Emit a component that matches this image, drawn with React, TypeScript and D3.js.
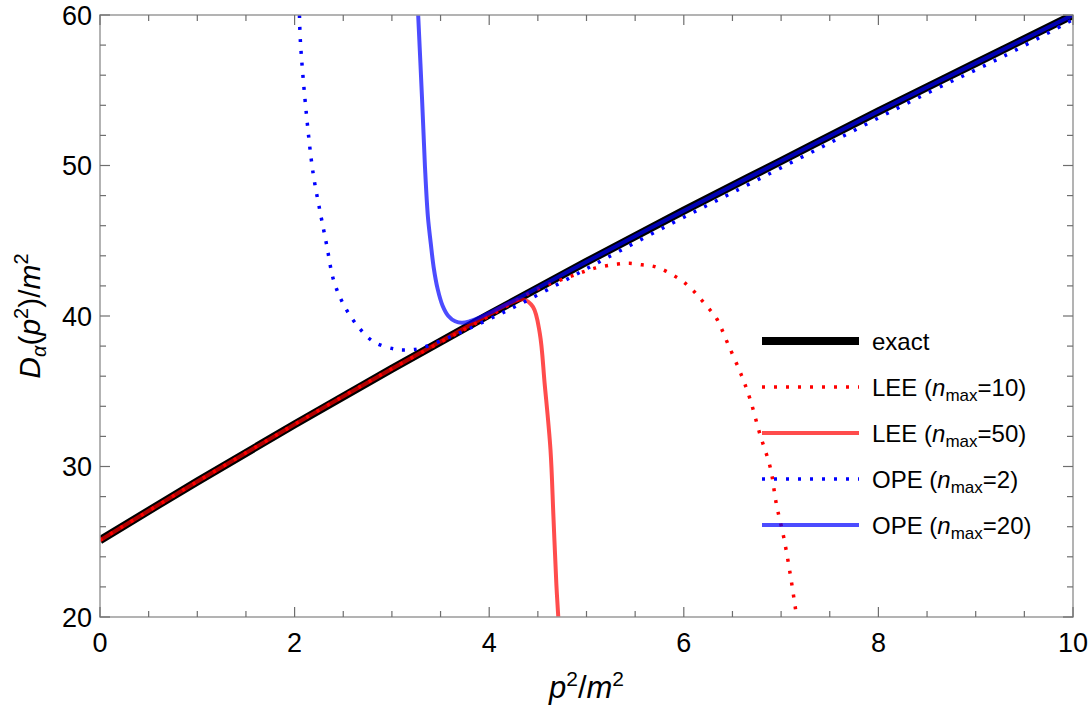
import { useEffect, useRef } from "react";
import * as d3 from "d3";

// exact propagator
const exactX = [0, 1, 2, 3, 4, 5, 6, 7, 8, 9, 10];
const exactY = [25.1, 29.0, 32.8, 36.5, 40.1, 43.6, 47.0, 50.3, 53.6, 56.8, 60.0];

// LEE, n_max = 10
const lee10X = [0, 1, 2, 3, 4, 4.5, 4.85, 5.07, 5.32, 5.44, 5.57, 5.69, 5.81, 5.92, 6.01, 6.11, 6.19, 6.27, 6.34, 6.45, 6.59, 6.68, 6.78, 6.89, 6.95, 7.03, 7.1, 7.16];
const lee10Y = [25.1, 29.0, 32.8, 36.5, 40.0, 41.8, 42.66, 43.15, 43.45, 43.5, 43.4, 43.3, 43.0, 42.6, 42.2, 41.6, 41.0, 40.4, 39.8, 38.2, 36.1, 34.5, 32.2, 29.9, 27.55, 25.2, 22.6, 20.0];

// LEE, n_max = 50
const lee50X = [0, 1, 2, 3, 3.5, 4.0, 4.2, 4.35, 4.45, 4.52, 4.57, 4.63, 4.66, 4.69, 4.71];
const lee50Y = [25.1, 29.0, 32.8, 36.5, 38.3, 40.1, 40.8, 41.1, 40.6, 38.85, 35.5, 31.1, 26.7, 22.2, 20.0];

// OPE, n_max = 2
const ope2X = [2.05, 2.06, 2.12, 2.19, 2.26, 2.33, 2.4, 2.5, 2.64, 2.81, 3.03, 3.16, 3.29, 3.63, 3.97, 4.32, 4.76, 5.19, 5.86, 6.5, 7.5, 8.5, 9.3, 10];
const ope2Y = [60, 58.2, 53.5, 49.5, 47.0, 44.7, 42.4, 40.8, 39.4, 38.3, 37.8, 37.75, 37.85, 38.7, 39.7, 40.8, 42.3, 43.8, 46.1, 48.2, 51.5, 54.8, 57.3, 59.7];

// OPE, n_max = 20
const ope20X = [3.27, 3.31, 3.34, 3.37, 3.4, 3.43, 3.47, 3.52, 3.58, 3.65, 3.72, 3.8, 3.9, 4.2, 5, 6, 7, 8, 9, 10];
const ope20Y = [60, 54.4, 49.9, 46.6, 44.8, 43.2, 41.8, 40.7, 40.0, 39.65, 39.55, 39.65, 39.9, 40.85, 43.6, 47.0, 50.3, 53.6, 56.8, 60.0];

const xMajorTicks = [0, 2, 4, 6, 8, 10];
const yMajorTicks = [20, 30, 40, 50, 60];

const FONT = "'Liberation Sans', Arial, sans-serif";

export default function App() {
  const ref = useRef<SVGSVGElement | null>(null);
  const width = 1090;
  const height = 720;
  const plot = { left: 100, right: 1073, top: 15, bottom: 617 };

  useEffect(() => {
    if (!ref.current) return;
    const svg = d3.select(ref.current);
    svg.selectAll("*").remove();

    const x = d3.scaleLinear().domain([0, 10]).range([plot.left, plot.right]);
    const y = d3.scaleLinear().domain([20, 60]).range([plot.bottom, plot.top]);

    svg.append("defs").append("clipPath").attr("id", "plotClip")
      .append("rect")
      .attr("x", plot.left).attr("y", plot.top)
      .attr("width", plot.right - plot.left).attr("height", plot.bottom - plot.top);

    const line = d3.line<[number, number]>()
      .x(d => x(d[0]))
      .y(d => y(d[1]))
      .curve(d3.curveCatmullRom.alpha(0.5));

    const zip = (xs: number[], ys: number[]) => xs.map((v, i) => [v, ys[i]] as [number, number]);

    const series = [
      { label: "exact", data: zip(exactX, exactY), color: "#000", width: 8, opacity: 1, dash: null as string | null, n: "" },
      { label: "LEE", data: zip(lee10X, lee10Y), color: "#ff0000", width: 3.5, opacity: 1, dash: "3,9", n: "10" },
      { label: "LEE", data: zip(lee50X, lee50Y), color: "#ff0000", width: 4, opacity: 0.7, dash: null, n: "50" },
      { label: "OPE", data: zip(ope2X, ope2Y), color: "#0000ff", width: 3.5, opacity: 1, dash: "3,9", n: "2" },
      { label: "OPE", data: zip(ope20X, ope20Y), color: "#0000ff", width: 4, opacity: 0.7, dash: null, n: "20" },
    ];

    const curves = svg.append("g").attr("clip-path", "url(#plotClip)");
    series.forEach(s => {
      curves.append("path")
        .attr("d", line(s.data))
        .attr("fill", "none")
        .attr("stroke", s.color)
        .attr("stroke-width", s.width)
        .attr("stroke-opacity", s.opacity)
        .attr("stroke-dasharray", s.dash)
        .attr("stroke-linecap", "butt");
    });

    // frame
    svg.append("rect")
      .attr("x", plot.left).attr("y", plot.top)
      .attr("width", plot.right - plot.left).attr("height", plot.bottom - plot.top)
      .attr("fill", "none").attr("stroke", "#9a9a9a").attr("stroke-width", 1.5);

    const ticks = svg.append("g").attr("stroke", "#6e6e6e").attr("stroke-width", 1.2);
    const xMinor = d3.range(0, 10.01, 0.5);
    const yMinor = d3.range(20, 60.01, 2);
    xMinor.forEach(v => {
      const len = xMajorTicks.includes(v) ? 10 : 6;
      ticks.append("line").attr("x1", x(v)).attr("x2", x(v)).attr("y1", plot.bottom).attr("y2", plot.bottom - len);
      ticks.append("line").attr("x1", x(v)).attr("x2", x(v)).attr("y1", plot.top).attr("y2", plot.top + len);
    });
    yMinor.forEach(v => {
      const len = yMajorTicks.includes(v) ? 10 : 6;
      ticks.append("line").attr("y1", y(v)).attr("y2", y(v)).attr("x1", plot.left).attr("x2", plot.left + len);
      ticks.append("line").attr("y1", y(v)).attr("y2", y(v)).attr("x1", plot.right).attr("x2", plot.right - len);
    });

    // tick labels
    svg.append("g").selectAll("text").data(xMajorTicks).enter().append("text")
      .attr("x", d => x(d)).attr("y", plot.bottom + 35)
      .attr("text-anchor", "middle")
      .style("font-family", FONT).style("font-size", "27px").style("fill", "#000")
      .text(d => d);
    svg.append("g").selectAll("text").data(yMajorTicks).enter().append("text")
      .attr("x", plot.left - 8).attr("y", d => y(d) + 9.5)
      .attr("text-anchor", "end")
      .style("font-family", FONT).style("font-size", "27px").style("fill", "#000")
      .text(d => d);

    // x axis title
    const xt = svg.append("text")
      .attr("x", (plot.left + plot.right) / 2).attr("y", 698)
      .attr("text-anchor", "middle")
      .style("font-family", FONT).style("font-size", "31px");
    xt.append("tspan").style("font-style", "italic").text("p");
    xt.append("tspan").attr("dy", -12).style("font-size", "21px").text("2");
    xt.append("tspan").attr("dy", 12).text("/");
    xt.append("tspan").style("font-style", "italic").text("m");
    xt.append("tspan").attr("dy", -12).style("font-size", "21px").text("2");

    // y axis title
    const yt = svg.append("text")
      .attr("transform", `translate(40,${(plot.top + plot.bottom) / 2}) rotate(-90)`)
      .attr("text-anchor", "middle")
      .style("font-family", FONT).style("font-size", "30px");
    yt.append("tspan").style("font-style", "italic").text("D");
    yt.append("tspan").attr("dy", 6).style("font-size", "20px").style("font-style", "italic").text("α");
    yt.append("tspan").attr("dy", -6).text("(");
    yt.append("tspan").style("font-style", "italic").text("p");
    yt.append("tspan").attr("dy", -12).style("font-size", "20px").text("2");
    yt.append("tspan").attr("dy", 12).text(")/");
    yt.append("tspan").style("font-style", "italic").text("m");
    yt.append("tspan").attr("dy", -12).style("font-size", "20px").text("2");

    // legend
    const legend = svg.append("g");
    const rowY = [341, 387, 433, 479, 525];
    series.forEach((s, i) => {
      const yy = rowY[i];
      legend.append("line")
        .attr("x1", 762).attr("x2", 859).attr("y1", yy).attr("y2", yy)
        .attr("stroke", s.color).attr("stroke-width", s.width)
        .attr("stroke-opacity", s.opacity)
        .attr("stroke-dasharray", s.dash);
      const t = legend.append("text")
        .attr("x", 872).attr("y", yy + 8.5)
        .style("font-family", FONT).style("font-size", "24px").style("fill", "#000");
      if (!s.n) {
        t.text(s.label);
      } else {
        t.append("tspan").text(`${s.label} (`);
        t.append("tspan").style("font-style", "italic").text("n");
        t.append("tspan").attr("dy", 5).style("font-size", "17px").text("max");
        t.append("tspan").attr("dy", -5).text(`=${s.n})`);
      }
    });
  }, []);

  return (
    <svg
      ref={ref}
      width={width}
      height={height}
      style={{ position: "absolute", left: 0, top: 0, background: "#fff" }}
    />
  );
}
